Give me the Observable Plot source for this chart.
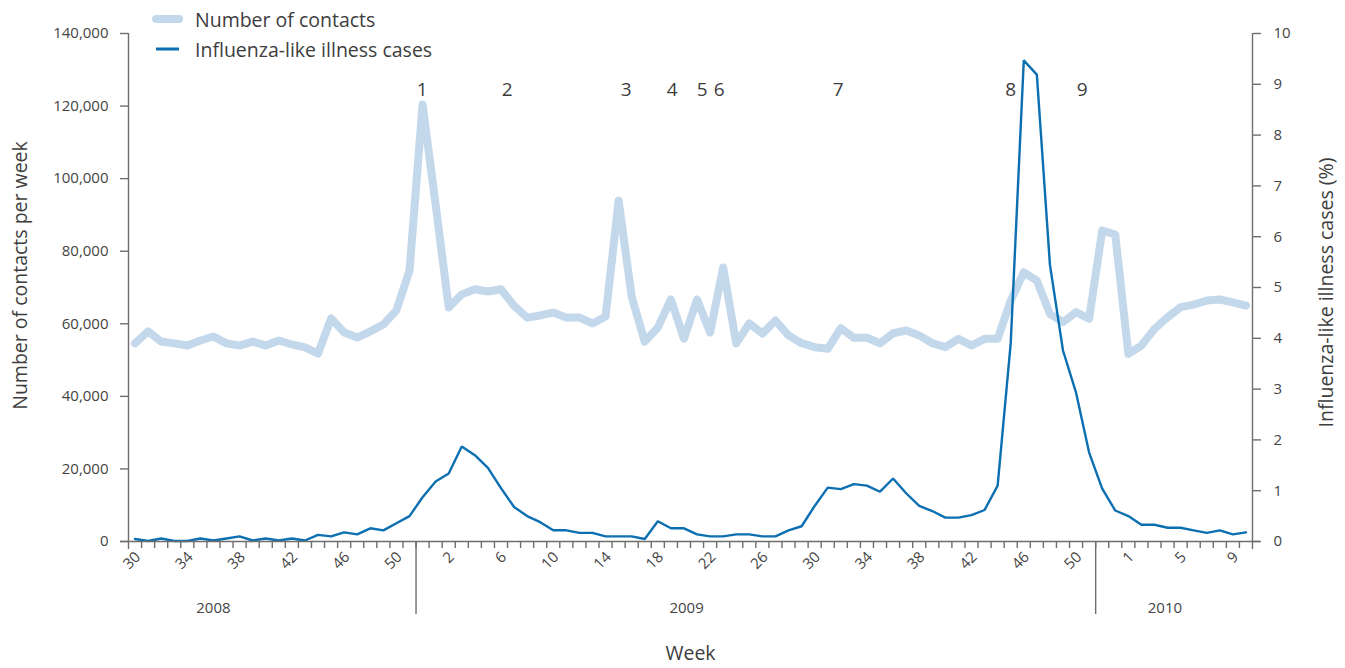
<!DOCTYPE html>
<html>
<head>
<meta charset="utf-8">
<script src="https://cdn.jsdelivr.net/npm/d3@7"></script>
<script src="https://cdn.jsdelivr.net/npm/@observablehq/plot@0.6"></script>
<style>
  html, body { margin: 0; padding: 0; background: #fff; }
  #chart { position: relative; width: 1345px; height: 668px; overflow: hidden; font-family: "Open Sans", sans-serif; color: #3d3d3d; }
  #chart > svg { position: absolute; left: 0; top: 0; }
  .legend-item { position: absolute; left: 151px; height: 24px; display: flex; align-items: center; font-size: 19.5px; color: #3d3d3d; white-space: nowrap; }
  .legend-item svg { display: block; margin-right: 12px; }
</style>
</head>
<body>
<div id="chart">
</div>
<script>
// Week numbers along the x axis: 2008 w30–52, 2009 w1–53, 2010 w1–10
const weekNumbers = [
  30,31,32,33,34,35,36,37,38,39,40,41,42,43,44,45,46,47,48,49,50,51,52,
  1,2,3,4,5,6,7,8,9,10,11,12,13,14,15,16,17,18,19,20,21,22,23,24,25,26,27,28,29,30,
  31,32,33,34,35,36,37,38,39,40,41,42,43,44,45,46,47,48,49,50,51,52,53,
  1,2,3,4,5,6,7,8,9,10
];

// Weekly number of contacts (left axis)
const contacts = [
  54600,57900,55100,54600,54000,55400,56500,54600,54000,55100,
  54000,55400,54300,53500,51800,61500,57600,56200,57900,59800,
  63700,74700,120400,92800,64500,68100,69500,68900,69500,65000,
  61700,62300,63100,61700,61700,60100,62000,93900,67500,55100,
  59000,66700,55900,66700,57600,75500,54600,60100,57300,60900,
  56800,54650,53550,53100,58800,56150,56150,54650,57400,58150,
  56800,54650,53550,55850,54000,55850,55850,66400,74200,71900,
  62750,60450,63200,61400,85700,84600,51700,54000,58600,61800,
  64600,65300,66400,66700,65900,65000
];

// Influenza-like illness cases, % of contacts (right axis)
const ili = [
  0.05,0.01,0.06,0.01,0.01,0.06,0.02,0.06,0.10,0.02,
  0.06,0.02,0.06,0.02,0.13,0.10,0.18,0.14,0.26,0.22,
  0.36,0.50,0.87,1.18,1.34,1.87,1.70,1.45,1.05,0.68,
  0.50,0.38,0.22,0.22,0.17,0.17,0.10,0.10,0.10,0.05,
  0.40,0.26,0.26,0.14,0.10,0.10,0.14,0.14,0.10,0.10,
  0.22,0.30,0.70,1.06,1.03,1.13,1.10,0.98,1.24,0.95,
  0.70,0.60,0.47,0.47,0.52,0.62,1.10,3.90,9.47,9.19,
  5.45,3.76,2.93,1.75,1.04,0.61,0.50,0.33,0.33,0.27,
  0.27,0.22,0.17,0.22,0.14,0.18
];

// Year blocks below the axis: divider positions and label positions (in week slots)
const yearDividers = [22, 74];
const yearNames = ["2008", "2009", "2010"];
const yearLabelAt = [6.5, 42.7, 79.3];

// Numbered event markers along the top (positions in week slots)
const eventLabels = ["1", "2", "3", "4", "5", "6", "7", "8", "9"];
const eventAt = [22.47, 28.97, 38.08, 41.6, 43.9, 45.2, 54.3, 67.5, 72.97];

// Axis ticks
const contactTicks = [0, 20000, 40000, 60000, 80000, 100000, 120000, 140000];
const iliTicks = [0, 1, 2, 3, 4, 5, 6, 7, 8, 9, 10];

const N = weekNumbers.length;
const Y_MAX = 140000;
const ILI_MAX = 10;
const iliToY = v => v * Y_MAX / ILI_MAX;

const contactColor = "#c4d8ec";
const iliColor = "#0b6fb1";
const axisColor = "#6e6e6e";
const textColor = "#3d3d3d";

const data = weekNumbers.map((w, i) => ({slot: i + 0.5, week: w, contacts: contacts[i], ili: ili[i]}));
const years = yearNames.map((y, k) => ({year: y, at: yearLabelAt[k]}));
const events = eventLabels.map((t, k) => ({label: t, at: eventAt[k]}));
const labelSlots = d3.range(0, N, 4).map(i => i + 0.5);

const chart = Plot.plot({
  width: 1345,
  height: 668,
  marginLeft: 128,
  marginRight: 93,
  marginTop: 33,
  marginBottom: 127,
  style: {fontFamily: "Open Sans, sans-serif", fontSize: "15px", color: textColor, background: "transparent", overflow: "visible"},
  x: {domain: [0, N], axis: null},
  y: {domain: [0, Y_MAX], axis: null},
  marks: [
    // contact volume (thick pale line)
    Plot.line(data, {x: "slot", y: "contacts", stroke: contactColor, strokeWidth: 8, strokeLinejoin: "round", strokeLinecap: "round"}),
    // ILI percentage scaled onto the contacts axis
    Plot.line(data, {x: "slot", y: d => iliToY(d.ili), stroke: iliColor, strokeWidth: 2.4, strokeLinejoin: "miter"}),

    // axis lines
    Plot.ruleY([0], {x1: 0, x2: N, insetLeft: -8, insetRight: -8, stroke: axisColor, strokeWidth: 1.4}),
    Plot.ruleX([0, N], {y1: 0, y2: Y_MAX, insetTop: 8, stroke: axisColor, strokeWidth: 1.4}),

    // left axis
    Plot.axisY({anchor: "left", ticks: contactTicks, tickFormat: d3.format(","), tickSize: 8, tickPadding: 12,
      stroke: axisColor, strokeWidth: 1.4, fill: "#444", fontSize: 15, letterSpacing: "2.2px", label: null}),
    // right axis (ILI %)
    Plot.axisY({anchor: "right", ticks: iliTicks.map(iliToY), tickFormat: v => Math.round(v * ILI_MAX / Y_MAX), tickSize: 8, tickPadding: 13,
      stroke: axisColor, strokeWidth: 1.4, fill: "#444", fontSize: 15, letterSpacing: "1px", label: null}),

    // week tick marks at slot boundaries
    Plot.axisX({anchor: "bottom", ticks: d3.range(1, N), tickSize: 7, tickFormat: () => "", stroke: axisColor, strokeWidth: 1.4, label: null}),
    // week labels every fourth week
    Plot.axisX({anchor: "bottom", ticks: labelSlots, tickSize: 0, tickPadding: 13, tickRotate: -45, dx: 3,
      tickFormat: x => String(weekNumbers[Math.floor(x)]), fill: "#444", fontSize: 15, letterSpacing: "1.2px", label: null}),

    // year dividers and names
    Plot.ruleX(yearDividers, {y1: 0, y2: 0, insetBottom: -73, stroke: axisColor, strokeWidth: 1.4}),
    Plot.text(years, {x: "at", text: "year", frameAnchor: "bottom", lineAnchor: "middle", dy: 67, fontSize: 15, letterSpacing: "1.2px", fill: "#444"}),
    Plot.text(["Week"], {text: d => d, frameAnchor: "bottom", lineAnchor: "middle", dy: 112, fontSize: 19.5, fill: textColor}),

    // axis titles
    Plot.text(["Number of contacts per week"], {text: d => d, frameAnchor: "left", textAnchor: "middle", lineAnchor: "middle", dx: -108, dy: -12, rotate: -90, fontSize: 19.5, fill: textColor}),
    Plot.text(["Influenza-like illness cases (%)"], {text: d => d, frameAnchor: "right", textAnchor: "middle", lineAnchor: "middle", dx: 74, dy: 5, rotate: -90, fontSize: 19.5, fill: textColor}),

    // event markers
    Plot.text(events, {x: "at", text: "label", frameAnchor: "top", lineAnchor: "middle", dy: 56, fontSize: 19, fill: textColor})
  ]
});

const root = document.getElementById("chart");
root.appendChild(chart);

// legend
const legendItems = [
  {label: "Number of contacts", color: contactColor, width: 8, top: 7},
  {label: "Influenza-like illness cases", color: iliColor, width: 3, top: 37}
];
for (const item of legendItems) {
  const div = document.createElement("div");
  div.className = "legend-item";
  div.style.top = item.top + "px";
  div.innerHTML = `<svg width="32" height="12"><line x1="5" x2="28" y1="6" y2="6" stroke="${item.color}" stroke-width="${item.width}" stroke-linecap="${item.width > 4 ? "round" : "butt"}"/></svg><span>${item.label}</span>`;
  root.appendChild(div);
}
</script>
</body>
</html>
